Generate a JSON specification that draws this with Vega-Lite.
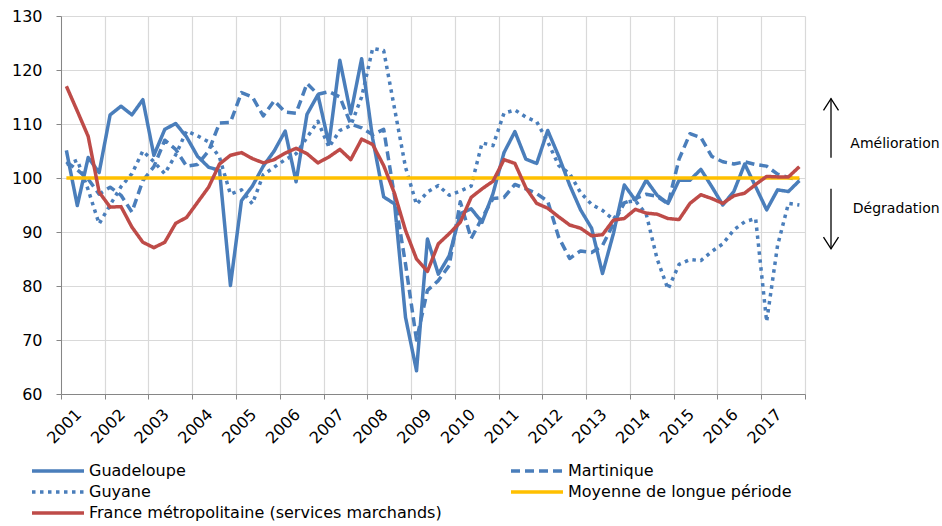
{
  "$schema": "https://vega.github.io/schema/vega-lite/v6.json",
  "width": 744,
  "height": 378,
  "autosize": {"type": "none"},
  "padding": {"left": 61, "top": 16, "right": 137, "bottom": 132},
  "background": "white",
  "config": {
    "font": "DejaVu Sans",
    "view": {"stroke": null},
    "axis": {
      "labelFont": "DejaVu Sans",
      "labelFontSize": 16,
      "labelColor": "#000000",
      "domainColor": "#868686",
      "tickColor": "#868686",
      "gridColor": "#d9d9d9",
      "gridWidth": 1.2,
      "tickSize": 5,
      "title": null
    }
  },
  "layer": [
    {
      "data": {
        "values": [
          {"d": "2001-02-15", "G": 105.1, "M": 103, "Y": 102.5, "L": 100, "F": 117},
          {"d": "2001-05-17", "G": 94.9, "M": 101.5, "Y": 103.3, "L": 100, "F": 112.4},
          {"d": "2001-08-16", "G": 103.8, "M": 99.8, "Y": 97.8, "L": 100, "F": 107.7},
          {"d": "2001-11-15", "G": 101, "M": 97, "Y": 91.5, "L": 100, "F": 97.4},
          {"d": "2002-02-15", "G": 111.7, "M": 98.3, "Y": 95, "L": 100, "F": 94.6},
          {"d": "2002-05-17", "G": 113.3, "M": 96.8, "Y": 98.4, "L": 100, "F": 94.7},
          {"d": "2002-08-16", "G": 111.7, "M": 93.7, "Y": 100.8, "L": 100, "F": 90.9},
          {"d": "2002-11-15", "G": 114.5, "M": 99.5, "Y": 105, "L": 100, "F": 88.1},
          {"d": "2003-02-15", "G": 104.2, "M": 102.1, "Y": 103, "L": 100, "F": 87.1},
          {"d": "2003-05-17", "G": 109, "M": 107, "Y": 100.8, "L": 100, "F": 88.1},
          {"d": "2003-08-16", "G": 110.1, "M": 105.3, "Y": 104.3, "L": 100, "F": 91.6},
          {"d": "2003-11-15", "G": 107.6, "M": 102.2, "Y": 108.7, "L": 100, "F": 92.7},
          {"d": "2004-02-15", "G": 104, "M": 102.5, "Y": 107.8, "L": 100, "F": 95.5},
          {"d": "2004-05-17", "G": 102, "M": 105, "Y": 106.7, "L": 100, "F": 98.3},
          {"d": "2004-08-16", "G": 101.4, "M": 110.2, "Y": 103.8, "L": 100, "F": 102.6},
          {"d": "2004-11-15", "G": 80.1, "M": 110.3, "Y": 97, "L": 100, "F": 104.2},
          {"d": "2005-02-15", "G": 95.8, "M": 115.8, "Y": 97.8, "L": 100, "F": 104.7},
          {"d": "2005-05-17", "G": 98.5, "M": 115, "Y": 95.2, "L": 100, "F": 103.6},
          {"d": "2005-08-16", "G": 102.2, "M": 111.5, "Y": 100.6, "L": 100, "F": 102.8},
          {"d": "2005-11-15", "G": 105, "M": 114.3, "Y": 102, "L": 100, "F": 103.4},
          {"d": "2006-02-15", "G": 108.7, "M": 112.2, "Y": 103.4, "L": 100, "F": 104.6},
          {"d": "2006-05-17", "G": 99.3, "M": 112, "Y": 104.5, "L": 100, "F": 105.5},
          {"d": "2006-08-16", "G": 111.8, "M": 117.5, "Y": 107.5, "L": 100, "F": 104.5},
          {"d": "2006-11-15", "G": 115.4, "M": 115.5, "Y": 110.5, "L": 100, "F": 102.8},
          {"d": "2007-02-15", "G": 106.3, "M": 116, "Y": 105.7, "L": 100, "F": 103.9},
          {"d": "2007-05-17", "G": 121.8, "M": 115, "Y": 108.8, "L": 100, "F": 105.3},
          {"d": "2007-08-16", "G": 111.9, "M": 110, "Y": 109.7, "L": 100, "F": 103.4},
          {"d": "2007-11-15", "G": 122.1, "M": 109.3, "Y": 115, "L": 100, "F": 107.2},
          {"d": "2008-02-15", "G": 107.3, "M": 108, "Y": 124, "L": 100, "F": 106.2},
          {"d": "2008-05-17", "G": 96.5, "M": 109, "Y": 123.6, "L": 100, "F": 102.3},
          {"d": "2008-08-16", "G": 95.2, "M": 96.5, "Y": 112.8, "L": 100, "F": 97.1},
          {"d": "2008-11-15", "G": 74.2, "M": 84.1, "Y": 102, "L": 100, "F": 90.3},
          {"d": "2009-02-15", "G": 64.3, "M": 70, "Y": 95.1, "L": 100, "F": 85},
          {"d": "2009-05-17", "G": 88.7, "M": 79.2, "Y": 97.4, "L": 100, "F": 82.7},
          {"d": "2009-08-16", "G": 82.2, "M": 81, "Y": 98.6, "L": 100, "F": 87.8},
          {"d": "2009-11-15", "G": 85.6, "M": 83.8, "Y": 96.8, "L": 100, "F": 89.7},
          {"d": "2010-02-15", "G": 93.4, "M": 95.6, "Y": 97.6, "L": 100, "F": 91.8},
          {"d": "2010-05-17", "G": 94.3, "M": 88.8, "Y": 98.5, "L": 100, "F": 96.4},
          {"d": "2010-08-16", "G": 91.8, "M": 92.6, "Y": 106.5, "L": 100, "F": 98},
          {"d": "2010-11-15", "G": 97.1, "M": 96.2, "Y": 106, "L": 100, "F": 99.4},
          {"d": "2011-02-15", "G": 104.7, "M": 96.4, "Y": 112, "L": 100, "F": 103.4},
          {"d": "2011-05-17", "G": 108.6, "M": 98.8, "Y": 112.6, "L": 100, "F": 102.7},
          {"d": "2011-08-16", "G": 103.5, "M": 98, "Y": 111.3, "L": 100, "F": 98.2},
          {"d": "2011-11-15", "G": 102.7, "M": 97.1, "Y": 110.4, "L": 100, "F": 95.3},
          {"d": "2012-02-15", "G": 108.8, "M": 95.7, "Y": 106.7, "L": 100, "F": 94.4},
          {"d": "2012-05-17", "G": 104, "M": 89, "Y": 102.3, "L": 100, "F": 92.8},
          {"d": "2012-08-16", "G": 98.7, "M": 85.1, "Y": 100.8, "L": 100, "F": 91.3},
          {"d": "2012-11-15", "G": 94.1, "M": 86.5, "Y": 97.3, "L": 100, "F": 90.7},
          {"d": "2013-02-15", "G": 90.7, "M": 86.2, "Y": 95.1, "L": 100, "F": 89.3},
          {"d": "2013-05-17", "G": 82.3, "M": 87.5, "Y": 94, "L": 100, "F": 89.5},
          {"d": "2013-08-16", "G": 89.7, "M": 91.5, "Y": 92.3, "L": 100, "F": 92.2},
          {"d": "2013-11-15", "G": 98.7, "M": 95.4, "Y": 95.5, "L": 100, "F": 92.5},
          {"d": "2014-02-15", "G": 95.9, "M": 96.2, "Y": 95.8, "L": 100, "F": 94.2},
          {"d": "2014-05-17", "G": 99.6, "M": 97, "Y": 93.3, "L": 100, "F": 93.5},
          {"d": "2014-08-16", "G": 96.8, "M": 96.6, "Y": 85, "L": 100, "F": 93.3},
          {"d": "2014-11-15", "G": 95.3, "M": 95.2, "Y": 79.4, "L": 100, "F": 92.5},
          {"d": "2015-02-15", "G": 99.6, "M": 103.5, "Y": 84, "L": 100, "F": 92.3},
          {"d": "2015-05-17", "G": 99.6, "M": 108.2, "Y": 84.9, "L": 100, "F": 95.3},
          {"d": "2015-08-16", "G": 101.6, "M": 107.5, "Y": 84.7, "L": 100, "F": 96.9},
          {"d": "2015-11-15", "G": 98.4, "M": 104, "Y": 86.4, "L": 100, "F": 96.2},
          {"d": "2016-02-15", "G": 95, "M": 103, "Y": 87.8, "L": 100, "F": 95.3},
          {"d": "2016-05-17", "G": 97.5, "M": 102.6, "Y": 90.4, "L": 100, "F": 96.7},
          {"d": "2016-08-16", "G": 102.6, "M": 103, "Y": 91.9, "L": 100, "F": 97.2},
          {"d": "2016-11-15", "G": 98.4, "M": 102.5, "Y": 92.5, "L": 100, "F": 98.8},
          {"d": "2017-02-15", "G": 94.1, "M": 102.2, "Y": 73.4, "L": 100, "F": 100.3},
          {"d": "2017-05-17", "G": 97.8, "M": 100.7, "Y": 87.5, "L": 100, "F": 100.2},
          {"d": "2017-08-16", "G": 97.5, "M": 100.1, "Y": 95.3, "L": 100, "F": 100.2},
          {"d": "2017-11-15", "G": 99.5, "M": 99.6, "Y": 95, "L": 100, "F": 102.1}
        ]
      },
      "transform": [{"fold": ["G", "M", "Y", "L", "F"], "as": ["serie", "value"]}],
      "mark": {"type": "line", "strokeWidth": 3.5, "strokeJoin": "round"},
      "encoding": {
        "x": {
          "field": "d",
          "type": "temporal",
          "scale": {
            "type": "utc",
            "domain": [
              {"year": 2001, "month": 1, "date": 1, "utc": true},
              {"year": 2018, "month": 1, "date": 1, "utc": true}
            ]
          },
          "axis": {
            "values": [
              {"year": 2001, "month": 1, "date": 1, "utc": true},
              {"year": 2002, "month": 1, "date": 1, "utc": true},
              {"year": 2003, "month": 1, "date": 1, "utc": true},
              {"year": 2004, "month": 1, "date": 1, "utc": true},
              {"year": 2005, "month": 1, "date": 1, "utc": true},
              {"year": 2006, "month": 1, "date": 1, "utc": true},
              {"year": 2007, "month": 1, "date": 1, "utc": true},
              {"year": 2008, "month": 1, "date": 1, "utc": true},
              {"year": 2009, "month": 1, "date": 1, "utc": true},
              {"year": 2010, "month": 1, "date": 1, "utc": true},
              {"year": 2011, "month": 1, "date": 1, "utc": true},
              {"year": 2012, "month": 1, "date": 1, "utc": true},
              {"year": 2013, "month": 1, "date": 1, "utc": true},
              {"year": 2014, "month": 1, "date": 1, "utc": true},
              {"year": 2015, "month": 1, "date": 1, "utc": true},
              {"year": 2016, "month": 1, "date": 1, "utc": true},
              {"year": 2017, "month": 1, "date": 1, "utc": true},
              {"year": 2018, "month": 1, "date": 1, "utc": true}
            ],
            "labelExpr": "utcyear(datum.value) < 2018 ? utcFormat(datum.value, '%Y') : ''",
            "labelAngle": -45,
            "labelAlign": "center",
            "labelBaseline": "middle",
            "labelPadding": 27,
            "labelOffset": 3,
            "labelOverlap": false,
            "labelFlush": false,
            "grid": true
          }
        },
        "y": {
          "field": "value",
          "type": "quantitative",
          "scale": {"domain": [60, 130], "nice": false, "zero": false},
          "axis": {
            "values": [60, 70, 80, 90, 100, 110, 120, 130],
            "labelPadding": 14,
            "grid": true
          }
        },
        "color": {
          "field": "serie",
          "type": "nominal",
          "scale": {
            "domain": ["G", "Y", "F", "M", "L"],
            "range": ["#4A7EBB", "#4A7EBB", "#BE4B48", "#4A7EBB", "#FFC000"]
          },
          "legend": {
            "orient": "none",
            "legendX": -11,
            "legendY": 447,
            "columns": 2,
            "columnPadding": 62,
            "rowPadding": 5,
            "padding": 0,
            "title": null,
            "symbolType": "M-5.2,0L5.2,0",
            "symbolSize": 100,
            "symbolStrokeWidth": 3.5,
            "labelOffset": 23,
            "labelFont": "DejaVu Sans",
            "labelFontSize": 16,
            "labelColor": "#000000",
            "labelLimit": 600,
            "labelExpr": "datum.label == 'G' ? 'Guadeloupe' : datum.label == 'M' ? 'Martinique' : datum.label == 'Y' ? 'Guyane' : datum.label == 'L' ? 'Moyenne de longue période' : 'France métropolitaine (services marchands)'"
          }
        },
        "strokeDash": {
          "field": "serie",
          "type": "nominal",
          "scale": {
            "domain": ["G", "Y", "F", "M", "L"],
            "range": [[1, 0], [3.5, 4.5], [1, 0], [9, 5], [1, 0]]
          },
          "legend": {
            "orient": "none",
            "legendX": -11,
            "legendY": 447,
            "columns": 2,
            "columnPadding": 62,
            "rowPadding": 5,
            "padding": 0,
            "title": null,
            "symbolType": "M-5.2,0L5.2,0",
            "symbolSize": 100,
            "symbolStrokeWidth": 3.5,
            "labelOffset": 23,
            "labelFont": "DejaVu Sans",
            "labelFontSize": 16,
            "labelColor": "#000000",
            "labelLimit": 600,
            "labelExpr": "datum.label == 'G' ? 'Guadeloupe' : datum.label == 'M' ? 'Martinique' : datum.label == 'Y' ? 'Guyane' : datum.label == 'L' ? 'Moyenne de longue période' : 'France métropolitaine (services marchands)'"
          }
        }
      }
    },
    {
      "data": {
        "values": [
          {"x": "2018-08-06", "y1": 114.7, "y2": 103.75},
          {"x": "2018-08-06", "y1": 98.0, "y2": 86.9}
        ]
      },
      "mark": {"type": "rule", "color": "#000000", "strokeWidth": 1.3},
      "encoding": {
        "x": {"field": "x", "type": "temporal"},
        "y": {"field": "y1", "type": "quantitative"},
        "y2": {"field": "y2"}
      }
    },
    {
      "data": {
        "values": [
          {"x": "2018-08-06", "head": 114.7, "dir": "up"},
          {"x": "2018-08-06", "head": 86.9, "dir": "down"}
        ]
      },
      "mark": {"type": "point", "filled": false, "stroke": "#000000", "strokeWidth": 1.3, "size": 225, "opacity": 1},
      "encoding": {
        "x": {"field": "x", "type": "temporal"},
        "y": {"field": "head", "type": "quantitative"},
        "shape": {
          "field": "dir",
          "type": "nominal",
          "scale": {"domain": ["up", "down"], "range": ["M-1,1.56L0,0L1,1.56", "M-1,-1.56L0,0L1,-1.56"]},
          "legend": null
        }
      }
    },
    {
      "data": {
        "values": [
          {"x": "2021-01-29", "y": 106.34, "t": "Amélioration"},
          {"x": "2021-01-29", "y": 94.29, "t": "Dégradation"}
        ]
      },
      "mark": {"type": "text", "align": "right", "baseline": "middle", "font": "DejaVu Sans", "fontSize": 14, "color": "#000000"},
      "encoding": {
        "x": {"field": "x", "type": "temporal"},
        "y": {"field": "y", "type": "quantitative"},
        "text": {"field": "t"}
      }
    }
  ]
}
